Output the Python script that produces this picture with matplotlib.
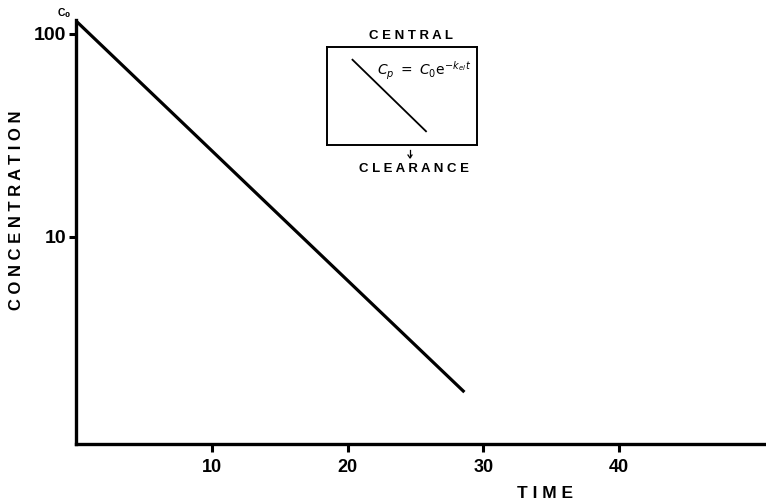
import numpy as np
import matplotlib.pyplot as plt

plt.rcParams['font.family'] = ['Liberation Sans', 'DejaVu Sans']

# one-compartment elimination, plotted on a log scale
time = [0.0, 28.6]
conc = [116.0, 1.72]
x_ticks = [10, 20, 30, 40]
y_ticks = [10, 100]
y_tick_labels = ["10", "100"]

# schematic decay line inside the compartment box
box_t = [0.17, 0.66]
box_c = [0.87, 0.14]

fig = plt.figure(figsize=(7.66, 5.0), dpi=100)
ax = fig.add_axes([0.099, 0.112, 0.901, 0.848])
ax.set_yscale('log')
ax.plot(time, conc, color='black', lw=2.3, solid_capstyle='butt')
ax.set_xlim(0, 50.8)
ax.set_ylim(0.955, 117)

for side in ['top', 'right']:
    ax.spines[side].set_visible(False)
for side in ['left', 'bottom']:
    ax.spines[side].set_linewidth(2.4)

ax.set_xticks(x_ticks)
ax.set_xticklabels([str(v) for v in x_ticks], fontsize=13, fontweight='bold')
ax.set_yticks(y_ticks)
ax.set_yticklabels(y_tick_labels, fontsize=14, fontweight='bold')
ax.yaxis.set_minor_locator(plt.NullLocator())
ax.tick_params(axis='x', direction='out', length=6, width=2.2, pad=5)
ax.tick_params(axis='y', direction='out', length=5, width=2.2, pad=2)

ax.text(-0.35, 117, r"C$_\mathbf{0}$", fontsize=7.5, fontweight='bold',
        ha='right', va='bottom')

fig.text(0.022, 0.58, " ".join("CONCENTRATION"), rotation=90, fontsize=12,
         fontweight='bold', ha='center', va='center')
fig.text(0.711, 0.014, " ".join("TIME"), fontsize=12.5, fontweight='bold',
         ha='center', va='center')

# compartment box
inset = fig.add_axes([327 / 766, 1 - 145 / 500, 150 / 766, 98 / 500])
inset.plot(box_t, box_c, color='black', lw=1.3)
inset.set_xlim(0, 1)
inset.set_ylim(0, 1)
inset.set_xticks([])
inset.set_yticks([])
for s in inset.spines.values():
    s.set_linewidth(1.4)
inset.text(0.97, 0.76, r"$C_p\ =\ C_0\mathrm{e}^{-k_{el}\,t}$", fontsize=10,
           ha='right', va='center')

fig.text(411 / 766, 1 - 36 / 500, " ".join("CENTRAL"), fontsize=9.5,
         fontweight='bold', ha='center', va='center')
fig.text(414 / 766, 1 - 169 / 500, " ".join("CLEARANCE"), fontsize=9.5,
         fontweight='bold', ha='center', va='center')
fig.add_artist(plt.Line2D([410 / 766, 410 / 766], [1 - 150 / 500, 1 - 157 / 500],
                          color='black', lw=0.9))
fig.add_artist(plt.Line2D([408 / 766, 410 / 766, 412 / 766],
                          [1 - 155 / 500, 1 - 158 / 500, 1 - 155 / 500],
                          color='black', lw=0.9))

fig.savefig("out.png", dpi=100)
